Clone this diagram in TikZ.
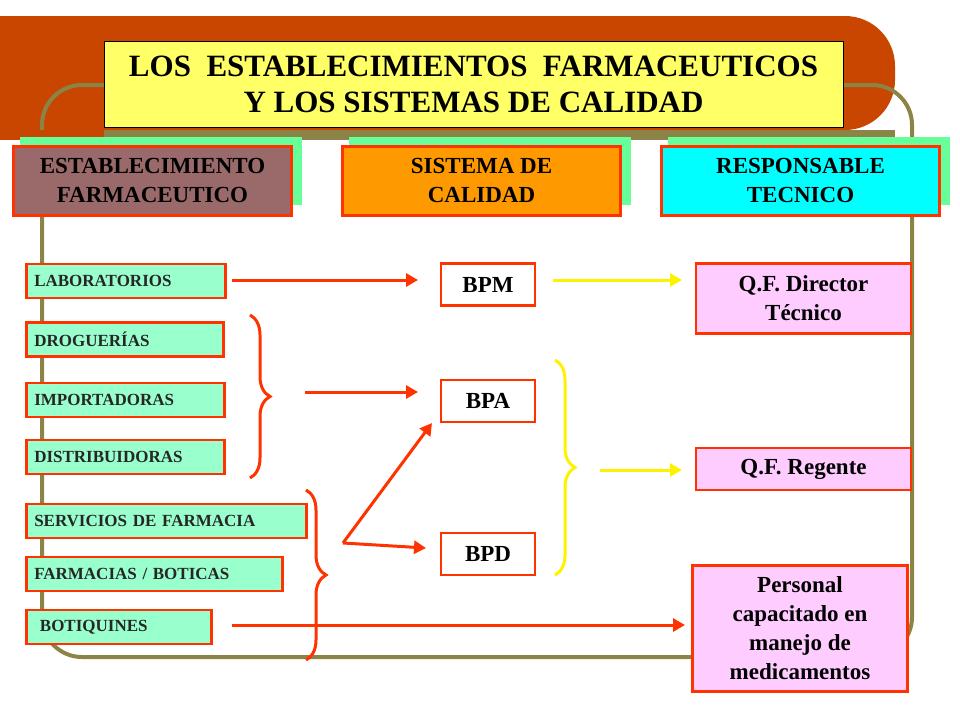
\documentclass[tikz,border=0pt]{standalone}
\usepackage{fontspec}
\setmainfont{Liberation Serif}
\usetikzlibrary{decorations.pathreplacing,arrows.meta}
\definecolor{banda}{HTML}{C84600}
\definecolor{oliva}{HTML}{8C8446}
\definecolor{rojo}{HTML}{FF3300}
\definecolor{verde}{HTML}{66FF99}
\definecolor{menta}{HTML}{99FFCC}
\definecolor{rosa}{HTML}{FFCCFF}
\definecolor{marron}{HTML}{9A6A6A}
\definecolor{amarillo}{HTML}{FFFF66}
\definecolor{naranja}{HTML}{FF9900}
\definecolor{celeste}{HTML}{00FFFF}

\begin{document}
\begin{tikzpicture}[x=1pt,y=-1pt,font=\bfseries]
        \tikzstyle{cabecera}=[draw=rojo,line width=3pt,minimum width=278pt,minimum height=69pt,align=center,font=\bfseries\fontsize{23}{29}\selectfont]
        \tikzstyle{origen}=[draw=rojo,line width=2.5pt,fill=menta,minimum height=34pt,anchor=west,inner xsep=8pt,align=left,font=\bfseries\fontsize{17}{20}\selectfont,text=black!85]
        \tikzstyle{sistema}=[draw=rojo,line width=2.5pt,fill=white,minimum width=94pt,minimum height=42pt,font=\bfseries\fontsize{23}{26}\selectfont]
        \tikzstyle{responsable}=[draw=rojo,line width=2.5pt,fill=rosa,minimum width=215pt,align=center,font=\bfseries\fontsize{23}{29}\selectfont]
        \tikzstyle{flecha}=[line width=3pt,-{Triangle[length=12pt,width=13pt]}]
        \tikzstyle{llave}=[line width=3pt,decorate,decoration={brace,amplitude=20pt}]
        \useasboundingbox (0,0) rectangle (960,720);
        % fondo
        \fill[banda,rounded corners=50pt] (0,16) rectangle (895,130);
        \fill[banda] (0,16) rectangle (60,130);
        \draw[oliva,line width=4pt,rounded corners=40pt] (42,85) rectangle (912,657);
        \fill[oliva] (0,130) rectangle (895,140);
        \fill[banda] (0,130) rectangle (104,140);
        % titulo
        \node[draw=black,fill=amarillo,minimum width=739pt,minimum height=86pt,align=center,font=\bfseries\fontsize{31}{36}\selectfont] (titulo) at (473.5,84)
            {LOS\ \ ESTABLECIMIENTOS\ \ FARMACEUTICOS\\Y LOS SISTEMAS DE CALIDAD};
        % cabeceras
        \foreach \x in {20,349,668}
            \fill[verde] (\x,137) rectangle +(282,68);
        \node[cabecera,fill=marron] (est) at (152.5,180.5) {ESTABLECIMIENTO\\FARMACEUTICO};
        \node[cabecera,fill=naranja] (sis) at (481.5,180.5) {SISTEMA DE\\CALIDAD};
        \node[cabecera,fill=celeste] (res) at (800.5,180.5) {RESPONSABLE\\TECNICO};
        % establecimientos
        \node[origen,text width=183pt] (lab) at (25,281) {LABORATORIOS};
        \node[origen,text width=181pt] (dro) at (25,339.5) {DROGUERÍAS};
        \node[origen,text width=182pt] (imp) at (25,400) {IMPORTADORAS};
        \node[origen,text width=182pt] (dis) at (25,457) {DISTRIBUIDORAS};
        \node[origen,text width=264pt] (ser) at (25,521) {SERVICIOS DE FARMACIA};
        \node[origen,text width=240pt] (far) at (25,574) {FARMACIAS / BOTICAS};
        \node[origen,text width=169pt] (bot) at (25,627) {\ BOTIQUINES};
        % sistemas
        \node[sistema] (bpm) at (488,284.5) {BPM};
        \node[sistema] (bpa) at (488,401) {BPA};
        \node[sistema] (bpd) at (488,554) {BPD};
        % responsables
        \node[responsable,minimum height=70pt] (dir) at (803.5,298.5) {Q.F. Director\\Técnico};
        \node[responsable,minimum height=42pt] (reg) at (803.5,469) {Q.F. Regente};
        \node[responsable,minimum height=126pt] (per) at (800,628.5) {Personal\\capacitado en\\manejo de\\medicamentos};
        % llaves
        \draw[llave,rojo] (250,315) -- (250,478);
        \draw[llave,rojo] (306,490) -- (306,660);
        \draw[llave,yellow] (555,360) -- (555,575);
        \coordinate (s0) at (232,280);
        \coordinate (s1) at (305,392);
        \coordinate (s2) at (343,543);
        \coordinate (s3) at (600,470);
        \coordinate (s4) at (553,280);
        \coordinate (s5) at (232,625);
        \coordinate (t1) at (418,280);
        \coordinate (t2) at (418,392);
        \coordinate (t3) at (432,423);
        \coordinate (t4) at (426,548);
        \coordinate (t5) at (682,280);
        \coordinate (t6) at (682,470);
        \coordinate (t7) at (685,625);
        % flechas
        \draw[flecha,rojo] (s0) -- (t1);
        \draw[flecha,rojo] (s1) -- (t2);
        \draw[flecha,rojo] (s2) -- (t3);
        \draw[flecha,rojo] (s2) -- (t4);
        \draw[flecha,rojo] (s5) -- (t7);
        \draw[flecha,yellow] (s4) -- (t5);
        \draw[flecha,yellow] (s3) -- (t6);
    \end{tikzpicture}
\end{document}
